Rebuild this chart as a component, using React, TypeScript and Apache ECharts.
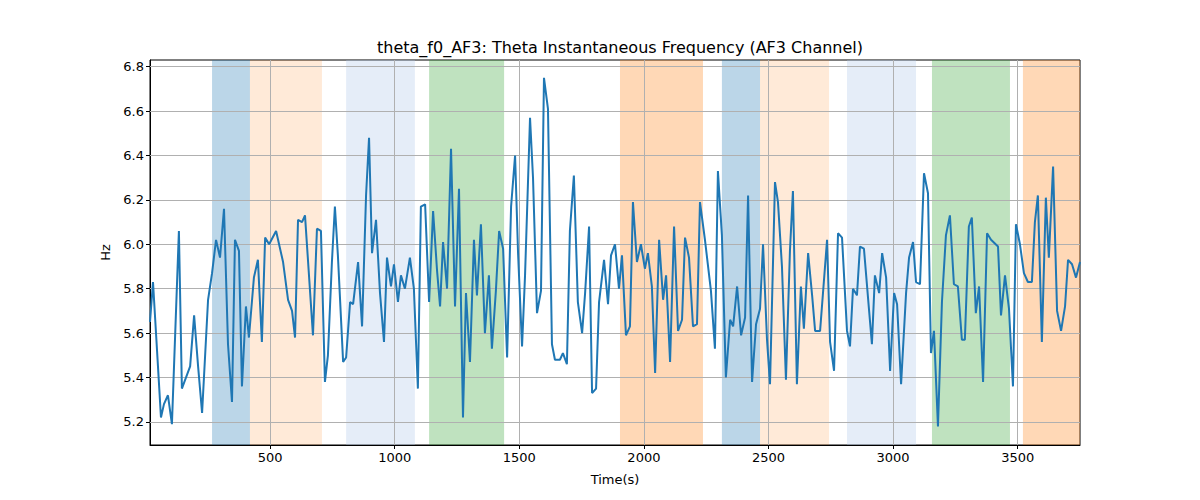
import { useEffect, useRef } from 'react';
import * as echarts from 'echarts';

const times = [18,30,50,62,74,90,106,134,146,179,195,211,227,251,267,283,299,315,331,347,359,375,387,403,415,435,451,467,480,496,524,552,572,588,600,612,628,640,672,688,704,720,732,748,760,772,793,805,821,833,853,869,885,897,909,925,941,957,969,985,997,1013,1025,1041,1061,1077,1093,1105,1122,1138,1154,1170,1182,1194,1210,1226,1242,1258,1274,1286,1302,1318,1330,1346,1362,1378,1390,1406,1419,1435,1451,1467,1483,1495,1511,1523,1543,1555,1571,1587,1599,1615,1631,1643,1663,1675,1691,1703,1719,1735,1752,1764,1780,1792,1808,1820,1840,1856,1868,1884,1900,1912,1928,1944,1956,1972,1988,2004,2016,2032,2045,2061,2077,2089,2105,2121,2137,2153,2165,2181,2197,2213,2225,2245,2269,2285,2297,2313,2329,2346,2358,2374,2390,2406,2418,2434,2450,2466,2478,2494,2506,2526,2538,2554,2570,2586,2598,2614,2630,2642,2659,2675,2687,2707,2735,2747,2763,2779,2795,2815,2827,2839,2855,2867,2883,2903,2915,2927,2944,2956,2972,2988,3004,3016,3032,3052,3064,3080,3092,3108,3124,3140,3152,3164,3180,3196,3212,3228,3244,3260,3276,3288,3304,3316,3332,3345,3361,3377,3393,3421,3433,3449,3465,3481,3493,3509,3525,3541,3557,3569,3581,3597,3613,3625,3642,3658,3674,3690,3702,3718,3734,3750];

const freq = [5.65,5.83,5.45,5.22,5.28,5.32,5.19,6.06,5.35,5.45,5.68,5.45,5.24,5.75,5.87,6.02,5.94,6.16,5.55,5.29,6.02,5.97,5.36,5.72,5.58,5.85,5.93,5.56,6.03,6.0,6.06,5.92,5.75,5.7,5.58,6.11,6.1,6.13,5.59,6.07,6.06,5.38,5.5,5.92,6.17,5.95,5.47,5.49,5.74,5.73,5.92,5.63,6.22,6.48,5.96,6.11,5.78,5.56,5.94,5.81,5.91,5.74,5.86,5.8,5.94,5.8,5.35,6.17,6.18,5.74,6.15,5.88,5.72,6.01,5.8,6.43,5.72,6.25,5.22,5.78,5.47,6.02,5.77,6.09,5.6,5.86,5.53,5.79,6.06,5.98,5.49,6.17,6.4,5.96,5.54,5.86,6.57,6.3,5.69,5.79,6.75,6.61,5.55,5.48,5.48,5.51,5.46,6.06,6.31,5.74,5.6,5.78,6.08,5.33,5.35,5.74,5.93,5.73,5.95,6.0,5.8,5.95,5.59,5.63,6.19,5.92,6.0,5.89,5.96,5.81,5.42,6.02,5.75,5.86,5.47,6.08,5.61,5.66,6.03,5.94,5.63,5.64,6.19,6.02,5.79,5.53,6.33,6.04,5.4,5.66,5.63,5.81,5.59,5.67,6.22,5.38,5.64,5.71,6.0,5.57,5.37,6.28,6.19,5.9,5.39,5.97,6.24,5.37,5.81,5.62,5.96,5.77,5.61,5.61,6.02,5.56,5.43,6.05,6.03,5.61,5.54,5.8,5.77,5.99,5.98,5.71,5.55,5.86,5.78,5.96,5.85,5.43,5.78,5.73,5.37,5.78,5.94,6.01,5.83,5.82,6.32,6.23,5.51,5.61,5.18,5.74,6.04,6.13,5.82,5.81,5.57,5.57,6.08,6.12,5.69,5.81,5.38,6.05,6.02,5.99,5.68,5.86,5.71,5.36,6.09,6.0,5.87,5.83,5.83,6.1,6.22,5.56,6.21,5.94,6.35,5.7,5.61,5.72,5.93,5.91,5.85,5.92];

// shaded intervals: [start, end, color]
const bands: [number, number, string][] = [
  [267, 419, 'rgba(31,119,180,0.3)'],
  [419, 708, 'rgba(255,127,14,0.16)'],
  [805, 1081, 'rgba(174,199,232,0.32)'],
  [1138, 1439, 'rgba(44,160,44,0.3)'],
  [1904, 2237, 'rgba(255,127,14,0.3)'],
  [2313, 2466, 'rgba(31,119,180,0.3)'],
  [2466, 2743, 'rgba(255,127,14,0.16)'],
  [2815, 3092, 'rgba(174,199,232,0.32)'],
  [3156, 3469, 'rgba(44,160,44,0.3)'],
  [3521, 3750, 'rgba(255,127,14,0.3)'],
];

const xTicks = [500, 1000, 1500, 2000, 2500, 3000, 3500];
const yTicks = [5.2, 5.4, 5.6, 5.8, 6.0, 6.2, 6.4, 6.6, 6.8];

const App = () => {
  const chartRef = useRef<HTMLDivElement>(null);

  useEffect(() => {
    if (!chartRef.current) return;
    const chart = echarts.init(chartRef.current, null, { renderer: 'svg' });
    const font = 'DejaVu Sans';
    const gridStyle = { color: '#b0b0b0', width: 1, type: 'solid' as const };

    chart.setOption({
      animation: false,
      textStyle: { fontFamily: font },
      title: {
        text: 'theta_f0_AF3: Theta Instantaneous Frequency (AF3 Channel)',
        left: 607,
        top: 26,
        textAlign: 'center',
        textStyle: { fontSize: 16, fontWeight: 'normal', color: '#000', fontFamily: font },
      },
      grid: { left: 142, right: 112, top: 52, bottom: 47, show: true, borderColor: '#000', borderWidth: 1 },
      xAxis: {
        type: 'value',
        min: 18,
        max: 3750,
        name: 'Time(s)',
        nameLocation: 'middle',
        nameGap: 28,
        nameTextStyle: { fontSize: 13, color: '#000' },
        axisLine: { onZero: false, lineStyle: { color: '#000' } },
        axisTick: { customValues: xTicks, length: 4, lineStyle: { color: '#000' } },
        axisLabel: { customValues: xTicks, fontSize: 13, color: '#000', margin: 6, formatter: (v: number) => String(v) },
        splitLine: { show: false },
      },
      yAxis: {
        type: 'value',
        min: 5.096,
        max: 6.83,
        name: 'Hz',
        nameLocation: 'middle',
        nameGap: 38,
        nameTextStyle: { fontSize: 13, color: '#000' },
        axisLine: { show: true, lineStyle: { color: '#000' } },
        axisTick: { show: true, customValues: yTicks, length: 4, lineStyle: { color: '#000' } },
        axisLabel: {
          customValues: yTicks,
          fontSize: 13,
          color: '#000',
          margin: 6,
          formatter: (v: number) => v.toFixed(1),
        },
        splitLine: { show: false },
      },
      series: [
        {
          type: 'line',
          data: [],
          markArea: {
            silent: true,
            data: bands.map(([a, b, c]) => [
              { xAxis: a, itemStyle: { color: c } },
              { xAxis: b },
            ]),
          },
        },
        {
          type: 'line',
          data: [],
          markLine: {
            silent: true,
            symbol: 'none',
            label: { show: false },
            lineStyle: gridStyle,
            data: [
              ...xTicks.map((v) => ({ xAxis: v })),
              ...yTicks.map((v) => ({ yAxis: v })),
            ],
          },
        },
        {
          type: 'line',
          data: times.map((t, i) => [t, freq[i]]),
          showSymbol: false,
          lineStyle: { color: '#1f77b4', width: 2 },
          itemStyle: { color: '#1f77b4' },
          z: 5,
        },
      ],
    });

    return () => chart.dispose();
  }, []);

  return <div ref={chartRef} style={{ width: 1184, height: 484 }} />;
};

export default App;
